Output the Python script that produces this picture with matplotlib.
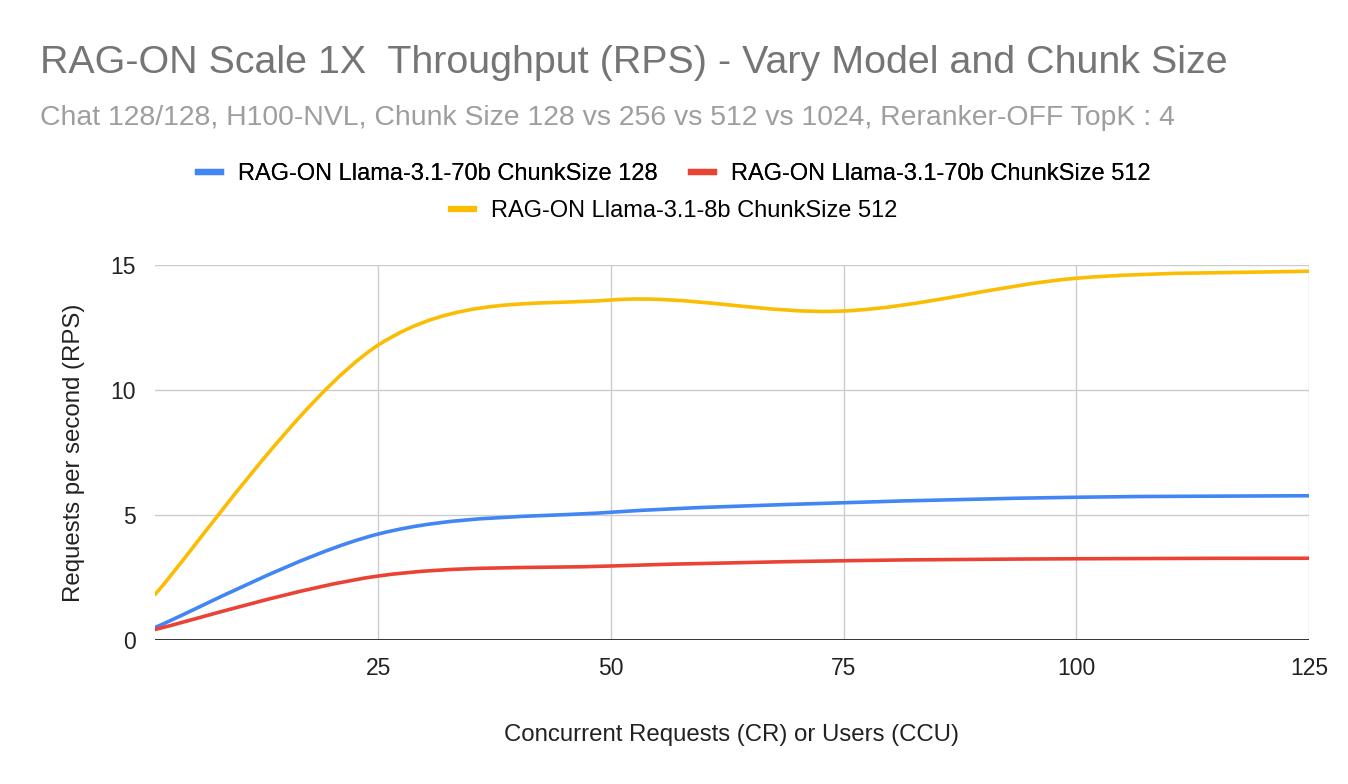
import matplotlib
matplotlib.use("Agg")
import matplotlib.pyplot as plt
from matplotlib.path import Path
from matplotlib.patches import PathPatch
from matplotlib.lines import Line2D

plt.rcParams['font.family'] = ['Liberation Sans', 'DejaVu Sans']

# Data
users = [1, 25, 50, 75, 100, 125]
rps_70b_128 = [0.50, 4.24, 5.11, 5.49, 5.71, 5.77]
rps_70b_512 = [0.42, 2.56, 2.96, 3.17, 3.25, 3.27]
rps_8b_512 = [1.82, 11.80, 13.60, 13.16, 14.47, 14.75]

labels = ["RAG-ON Llama-3.1-70b ChunkSize 128",
          "RAG-ON Llama-3.1-70b ChunkSize 512",
          "RAG-ON Llama-3.1-8b ChunkSize 512"]
colors = ["#4285F4", "#EA4335", "#FBBC04"]

x_ticks = [25, 50, 75, 100, 125]
y_ticks = [0, 5, 10, 15]


def smooth_path(xs, ys):
    # Catmull-Rom style bezier segments, like the "smooth" line option
    pts = list(zip(xs, ys))
    verts = [pts[0]]
    codes = [Path.MOVETO]
    n = len(pts)
    for i in range(n - 1):
        p0 = pts[i - 1] if i > 0 else pts[i]
        p1 = pts[i]
        p2 = pts[i + 1]
        p3 = pts[i + 2] if i + 2 < n else pts[i + 1]
        c1 = (p1[0] + (p2[0] - p0[0]) / 6, p1[1] + (p2[1] - p0[1]) / 6)
        c2 = (p2[0] - (p3[0] - p1[0]) / 6, p2[1] - (p3[1] - p1[1]) / 6)
        verts += [c1, c2, p2]
        codes += [Path.CURVE4] * 3
    return Path(verts, codes)


fig = plt.figure(figsize=(13.48, 7.84), dpi=100)
ax = fig.add_axes([155 / 1348, 1 - 640 / 784, (1309 - 155) / 1348, (640 - 265) / 784])

for series, color in zip([rps_70b_128, rps_70b_512, rps_8b_512], colors):
    patch = PathPatch(smooth_path(users, series), facecolor="none", edgecolor=color,
                      lw=2.6, capstyle="round", joinstyle="round", zorder=3)
    ax.add_patch(patch)

ax.set_xlim(1, 125)
ax.set_ylim(0, 15)
ax.set_xticks(x_ticks)
ax.set_yticks(y_ticks)
ax.grid(True, color="#cccccc", lw=1.0, zorder=0)
ax.axhline(0, color="#333333", lw=1.4, zorder=2)
for s in ax.spines.values():
    s.set_visible(False)
ax.tick_params(length=0, labelsize=16.5, colors="#222222", pad=12)
ax.tick_params(axis="y", pad=14)
ax.set_xlabel("Concurrent Requests (CR) or Users (CCU)", fontsize=17.3, color="#222222", labelpad=32)
ax.set_ylabel("Requests per second (RPS)", fontsize=17.3, color="#222222", labelpad=18)

fig.text(40 / 1348, 1 - 63 / 784, "RAG-ON Scale 1X  Throughput (RPS) - Vary Model and Chunk Size",
         fontsize=28.4, color="#757575", va="center", ha="left")
fig.text(40 / 1348, 1 - 118 / 784,
         "Chat 128/128, H100-NVL, Chunk Size 128 vs 256 vs 512 vs 1024, Reranker-OFF TopK : 4",
         fontsize=20.4, color="#9e9e9e", va="center", ha="left")

handles = [Line2D([], [], color=c, lw=4.5) for c in colors]
leg1 = fig.legend(handles[:2], labels[:2], loc="center", ncol=2,
                  bbox_to_anchor=(674 / 1348, 1 - 174 / 784), frameon=False,
                  fontsize=17, handlelength=1.0, columnspacing=1.4, handletextpad=0.7)
leg2 = fig.legend(handles[2:], labels[2:], loc="center",
                  bbox_to_anchor=(674 / 1348, 1 - 211 / 784), frameon=False,
                  fontsize=17, handlelength=1.0, handletextpad=0.7)
fig.add_artist(leg1)

fig.savefig("out.png", dpi=100, facecolor="white")
